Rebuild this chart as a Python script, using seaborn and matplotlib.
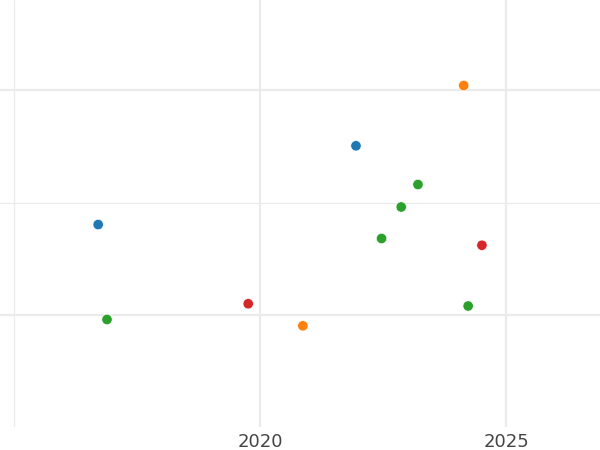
import matplotlib
matplotlib.use("Agg")
import matplotlib.pyplot as plt
import seaborn as sns
import pandas as pd

# values (y has no labels, so the scale is relative)
groups = ["A", "A", "B", "B", "C", "C", "C", "C", "C", "D", "D"]
years = [2016.71, 2021.95, 2024.14, 2020.87, 2016.89, 2022.47, 2022.87,
         2023.21, 2024.23, 2019.76, 2024.51]
values = [70.1, 87.6, 101.0, 47.6, 49.0, 67.0, 74.0, 79.0, 52.0, 52.5, 65.5]

x_major = [2020, 2025]
x_minor = [2015]
y_major = [50, 100]
y_minor = [75]


def main():
    df = pd.DataFrame({"group": groups, "year": years, "value": values})

    sns.set_style("white")
    fig = plt.figure(figsize=(6, 4.5), dpi=100)
    ax = fig.add_axes([0, 0.051, 1, 0.949])

    sns.scatterplot(data=df, x="year", y="value", hue="group",
                    palette="tab10", s=55, edgecolor="white", linewidth=0.4,
                    legend=False, ax=ax, zorder=3)

    ax.set_xlim(2014.715, 2026.91)
    ax.set_ylim(25.1, 120)

    ax.set_xticks(x_major)
    ax.set_xticks(x_minor, minor=True)
    ax.set_yticks(y_major)
    ax.set_yticks(y_minor, minor=True)
    ax.set_yticklabels([])

    ax.grid(which="major", color="#ebebeb", linewidth=1.6)
    ax.grid(which="minor", color="#ebebeb", linewidth=0.9)
    ax.set_axisbelow(True)

    ax.tick_params(which="both", length=0)
    ax.tick_params(axis="x", labelsize=13, labelcolor="#444444", pad=4)
    for s in ax.spines.values():
        s.set_visible(False)
    ax.set_xlabel("")
    ax.set_ylabel("")

    fig.savefig("out.png", dpi=100)
    plt.close(fig)


if __name__ == "__main__":
    main()
